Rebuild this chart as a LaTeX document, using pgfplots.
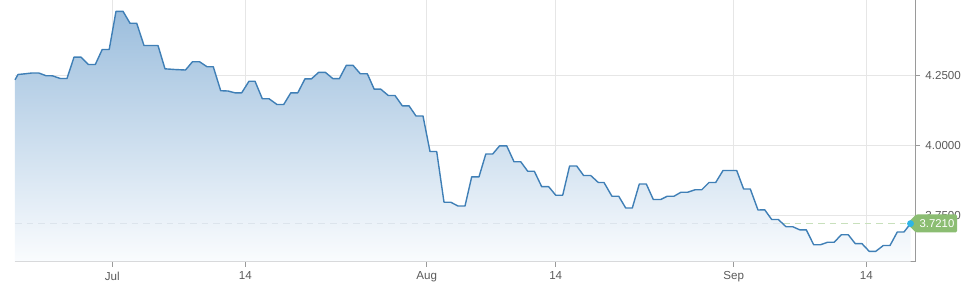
\documentclass[border=0pt]{standalone}
\usepackage{pgfplots}
\pgfplotsset{compat=1.18}
\usepackage{pgfplotstable}
\usepackage{fontspec}
\setmainfont{Liberation Sans}
\definecolor{lineblue}{HTML}{3F7FB6}
\definecolor{areatop}{HTML}{9CBEDD}
\definecolor{areabot}{HTML}{FAFCFE}
\definecolor{gridc}{HTML}{E6E6E6}
\definecolor{axisc}{HTML}{9A9A9A}
\definecolor{labc}{HTML}{5A5A5A}
\definecolor{lgreen}{HTML}{8BBD72}
\definecolor{dashgreen}{HTML}{C8E0BC}
\definecolor{dashfaint}{HTML}{DCE4EC}
\definecolor{dotc}{HTML}{2EB5E6}
\pgfplotstableread{
x y
15 4.2346
18 4.2536
25 4.2561
31.7 4.2589
38.8 4.2589
46 4.2493
52.5 4.2489
60.3 4.2393
67 4.2393
74 4.3154
81 4.3154
88.3 4.2893
95.3 4.2893
102.2 4.3429
109.2 4.3429
116 4.4793
123 4.4793
130 4.4368
136.7 4.4368
144 4.3571
158 4.3571
165 4.2739
175 4.2714
185.5 4.2696
192.5 4.2993
199.5 4.2993
207 4.2814
213.3 4.2811
220.7 4.1957
228 4.1946
235 4.1882
241.7 4.1882
249 4.2296
255 4.2296
262.3 4.1671
269 4.1671
277 4.1464
283.7 4.1464
290.8 4.1882
297.8 4.1882
305 4.2382
311.5 4.2382
318.7 4.2614
325.3 4.2614
333 4.2386
339.3 4.2386
346.3 4.2864
353 4.2864
360.3 4.2564
367.3 4.2564
374.2 4.2011
380.8 4.2011
388.3 4.1786
395 4.1786
402.3 4.1418
409 4.1418
416 4.1054
423 4.1054
430 3.9786
436.7 3.9786
444 3.7975
450.7 3.7975
458 3.7839
465 3.7839
471.7 3.8882
479 3.8882
485.8 3.9696
492.7 3.9696
499.6 3.9989
506.7 3.9989
514 3.9421
520.7 3.9421
527.7 3.9082
534.3 3.9082
541.7 3.8529
548.7 3.8529
555.7 3.8225
562.7 3.8225
569.6 3.9268
576.7 3.9268
583.6 3.8929
590.7 3.8929
598.3 3.8679
604 3.8679
611.9 3.8189
618.7 3.8189
625.7 3.7768
632.3 3.7768
639.3 3.8625
646.3 3.8625
653.3 3.8071
660.7 3.8071
667.3 3.8189
674 3.8189
681 3.8332
687.7 3.8332
695 3.8418
701.7 3.8418
709 3.8679
715.7 3.8679
723 3.9107
736.7 3.9107
743.6 3.8446
750.3 3.8446
758 3.7696
764.7 3.7704
771.7 3.7357
778.3 3.7357
786 3.7100
792.7 3.7100
799.7 3.6989
806.3 3.6989
813.7 3.6454
820.3 3.6454
827.5 3.6543
834.2 3.6543
841.2 3.6811
848.3 3.6811
855.3 3.6493
862 3.6493
869.2 3.6221
875.8 3.6221
883.3 3.6429
890 3.6429
897.3 3.6911
904 3.6911
910.5 3.7210
}\ratedata
\begin{document}
\begin{tikzpicture}
\path (-11.25pt,-28.5pt) rectangle (717.75pt,195.75pt);
\begin{axis}[
  at={(0,0)}, anchor=south west,
  scale only axis, width=675pt, height=195.75pt,
  xmin=15, xmax=915, ymin=3.5857, ymax=4.5179,
  axis x line*=bottom, axis y line*=right,
  axis line style={color=axisc, line width=0.75pt},
  xtick={112.3,245.3,426.7,555.7,733.7,866.3},
  xticklabels={Jul,14,Aug,14,Sep,14},
  ytick={3.75,4,4.25},
  yticklabels={3.7500,4.0000,4.2500},
  tick align=outside, major tick length=3.75pt,
  tick style={color=axisc, line width=0.75pt},
  grid=major, major grid style={color=gridc, line width=0.75pt},
  ticklabel style={font=\fontsize{8.7}{10}\selectfont, text=labc},
  /pgf/number format/assume math mode=true,
  xticklabel style={yshift=-0.3pt},
  yticklabel style={xshift=0.5pt},
  clip=false,
]
\addplot[draw=none, top color=areatop, bottom color=areabot] table[x=x,y=y] {\ratedata}
  -- (axis cs:910.5,3.5857) -- (axis cs:15,3.5857) -- cycle;
\addplot[dashfaint, line width=1pt, dash pattern=on 5pt off 3.75pt, forget plot] coordinates {(15,3.721) (783,3.721)};
\addplot[dashgreen, line width=1pt, dash pattern=on 5pt off 3.75pt, forget plot] coordinates {(783,3.721) (906,3.721)};
\addplot[lineblue, line width=1.05pt, line join=round] table[x=x,y=y] {\ratedata};
\fill[lgreen, rounded corners=1pt] (axis cs:907,3.721) -- (axis cs:916,3.7536) -- (axis cs:957,3.7536) -- (axis cs:957,3.6893) -- (axis cs:916,3.6893) -- cycle;
\node[text=white, font=\fontsize{8.5}{10}\selectfont, inner sep=0pt] at (axis cs:937,3.721) {3.7210};
\fill[dotc] (axis cs:910.5,3.721) circle (2.6pt);
\end{axis}
\end{tikzpicture}
\end{document}
